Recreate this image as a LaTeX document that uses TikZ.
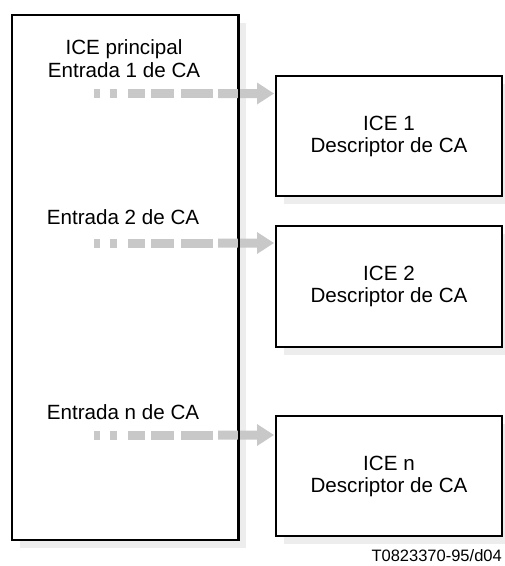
\documentclass[tikz,border=0pt]{standalone}
\usepackage{fontspec}
\setmainfont{Liberation Sans}
\usetikzlibrary{calc}
\definecolor{dashgray}{HTML}{C8C8C8}
\definecolor{shadowgray}{HTML}{EDEDED}
\begin{document}
\begin{tikzpicture}[x=1pt,y=-1pt,
  box/.style={draw=black, line width=2.2pt, fill=white, inner sep=0pt,
    align=center, font=\fontsize{20.6}{22}\selectfont},
  lbl/.style={inner sep=0pt, align=center, font=\fontsize{20.6}{23}\selectfont},
  shade/.style={fill=shadowgray},
  flow/.style={fill=dashgray}]
\useasboundingbox (0,0) rectangle (505,566);
% shadows
\fill[shade] (20,23) rectangle (246,548);
\fill[shade] (284,84) rectangle (510,204);
\fill[shade] (284,234) rectangle (510,355);
\fill[shade] (284,424) rectangle (510,544);
% main box
\node[box, minimum width=226pt, minimum height=525pt] (main) at (125,277.5) {};
% descriptor boxes
\node[box, minimum width=226pt, minimum height=120pt] (b1) at (389,136) {ICE 1\\Descriptor de CA};
\node[box, minimum width=226pt, minimum height=121pt] (b2) at (389,286.5) {ICE 2\\Descriptor de CA};
\node[box, minimum width=226pt, minimum height=120pt] (b3) at (389,476) {ICE n\\Descriptor de CA};
% labels
\node[lbl] (l1) at (124,58.5) {ICE principal\\Entrada 1 de CA};
\node[lbl] (l2) at (123,217) {Entrada 2 de CA};
\node[lbl] (l3) at (123,412) {Entrada n de CA};
% arrow start points
\coordinate (s1) at (94,93.5);
\coordinate (s2) at (94,243);
\coordinate (s3) at (94,435);
\foreach \s/\t in {s1/b1,s2/b2,s3/b3}{
  \foreach \a/\b in {0/6,16/23,34/51,57/80,87/119}
    \fill[flow] ($(\s)+(\a,-4.5)$) rectangle ($(\s)+(\b,4.5)$);
  \fill[flow] ($(\s)+(124,-4.5)$) -- ($(\s)+(163,-4.5)$) -- ($(\s)+(163,-11)$)
    -- ($(\t.west |- \s)+(-1,0)$) -- ($(\s)+(163,11)$) -- ($(\s)+(163,4.5)$)
    -- ($(\s)+(124,4.5)$) -- cycle;
}
% redraw main box right edge over the arrows
\draw[line width=2.2pt] (main.north east) -- (main.south east);
% figure reference
\node[inner sep=0pt, anchor=east, font=\fontsize{16.5}{18}\selectfont] (ref) at (502,556) {T0823370-95/d04};
\end{tikzpicture}
\end{document}
